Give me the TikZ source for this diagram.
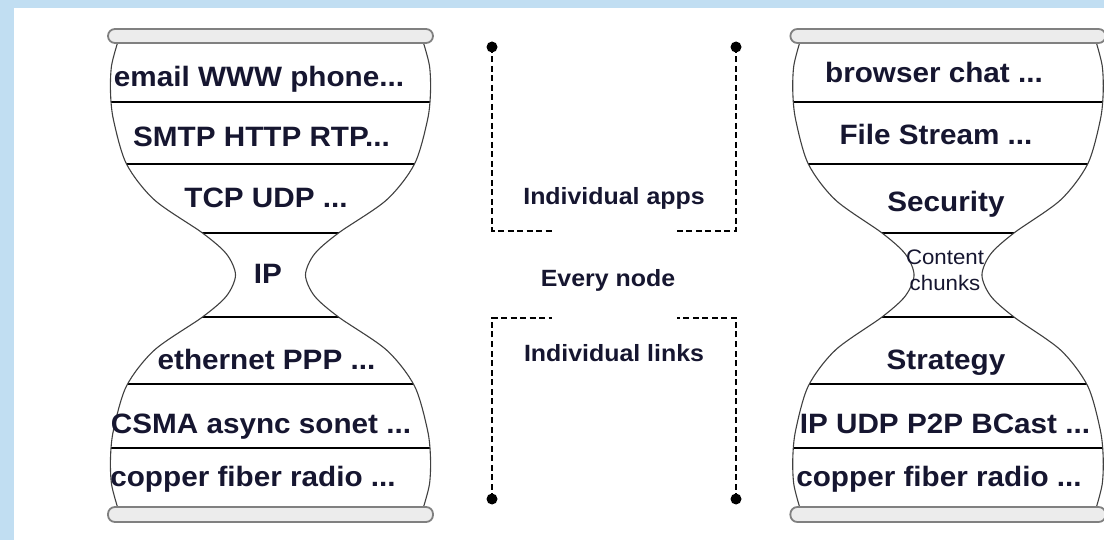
\documentclass[tikz,border=0pt]{standalone}
\usepackage{fontspec}
\setmainfont{Liberation Sans}[FakeStretch=1.06]
\definecolor{ink}{RGB}{22,22,48}
\definecolor{slide}{RGB}{193,222,242}
\definecolor{capfill}{RGB}{236,236,236}
\tikzset{
  outline/.style={line width=1.1pt, draw=black!75},
  divider/.style={line width=2pt},
  layer/.style={anchor=base, text=ink, inner sep=0pt, font=\fontsize{28}{30}\selectfont\bfseries},
  note/.style={anchor=base, text=ink, inner sep=0pt, font=\fontsize{23.5}{26}\selectfont\bfseries},
  capbar/.style={rounded corners=7pt, line width=1.8pt, draw=black!50, fill=capfill},
  bracket/.style={line width=1.6pt, dash pattern=on 6pt off 3.5pt},
}
\begin{document}
\begin{tikzpicture}[x=1pt, y=-1pt]
\def\rside{plot[smooth] coordinates {(153,43) (159,66) (160,92) (157,120) (144,164) (116,200) (68,233) (44,254) (35,275) (44,296) (68,317) (116,350) (144,386) (157,430) (160,458) (159,484) (153,507)}}
\def\lside{plot[smooth] coordinates {(-153,507) (-159,484) (-160,458) (-157,430) (-144,386) (-116,350) (-68,317) (-44,296) (-35,275) (-44,254) (-68,233) (-116,200) (-144,164) (-157,120) (-160,92) (-159,66) (-153,43)}}
\def\hgshape{plot[smooth] coordinates {(153,43) (159,66) (160,92) (157,120) (144,164) (116,200) (68,233) (44,254) (35,275) (44,296) (68,317) (116,350) (144,386) (157,430) (160,458) (159,484) (153,507)} -- plot[smooth] coordinates {(-153,507) (-159,484) (-160,458) (-157,430) (-144,386) (-116,350) (-68,317) (-44,296) (-35,275) (-44,254) (-68,233) (-116,200) (-144,164) (-157,120) (-160,92) (-159,66) (-153,43)} -- cycle}
\def\glass{
  \begin{scope}
    \clip \hgshape;
    \foreach \y in {102,164,233,317,384,448} \draw[divider] (-175,\y) -- (175,\y);
  \end{scope}
  \draw[outline] \rside;
  \draw[outline] \lside;
  \draw[capbar] (-162.5,29) rectangle (162.5,43);
  \draw[capbar] (-162.5,507) rectangle (162.5,522);
}
\useasboundingbox (0,0) rectangle (1104,540);
\fill[slide] (0,0) rectangle (1104,540);
\fill[white] (14,8) rectangle (1104,540);

\begin{scope}[xshift=270.5]
\glass
\end{scope}
\begin{scope}[xshift=948, xscale=0.97]
\glass
\end{scope}

\node[layer] (email) at (259,87) {email WWW phone...};
\node[layer] (smtp) at (261.5,147) {SMTP HTTP RTP...};
\node[layer] (tcp) at (266,208) {TCP UDP ...};
\node[layer] (ip) at (268,284) {IP};
\node[layer] (eth) at (266.5,369) {ethernet PPP ...};
\node[layer] (csma) at (261,433) {CSMA async sonet ...};
\node[layer] (phys) at (253,486) {copper fiber radio ...};

\node[layer] (browser) at (934,83) {browser chat ...};
\node[layer] (file) at (936,145) {File Stream ...};
\node[layer] (security) at (946,212) {Security};
\node[anchor=base, text=ink, inner sep=0pt, align=center, font=\fontsize{21}{26}\selectfont] (chunks) at (945,291) {Content\\chunks};
\node[layer] (strategy) at (946,369) {Strategy};
\node[layer] (p2p) at (945,433) {IP UDP P2P BCast ...};
\node[layer] (physr) at (939,486) {copper fiber radio ...};

\coordinate (appsL) at (492,47);
\coordinate (appsLend) at (552,231);
\coordinate (appsR) at (736,47);
\coordinate (appsRend) at (677,231);
\coordinate (linksL) at (492,499);
\coordinate (linksLend) at (552,318);
\coordinate (linksR) at (736,499);
\coordinate (linksRend) at (677,318);
\draw[bracket] (appsL) |- (appsLend);
\draw[bracket] (appsR) |- (appsRend);
\draw[bracket] (linksL) |- (linksLend);
\draw[bracket] (linksR) |- (linksRend);
\foreach \p in {appsL,appsR,linksL,linksR} \fill (\p) circle (5.5);

\node[note] (apps) at (614,205) {Individual apps};
\node[note] (every) at (608,287) {Every node};
\node[note] (links) at (614,362) {Individual links};
\end{tikzpicture}
\end{document}
